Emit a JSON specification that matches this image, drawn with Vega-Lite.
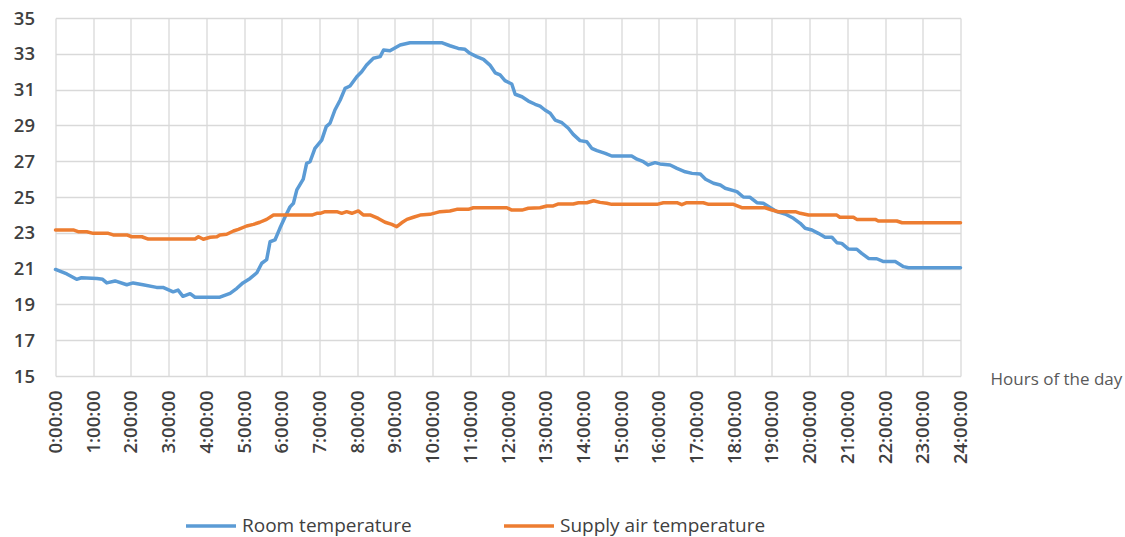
{
 "$schema": "https://vega.github.io/schema/vega-lite/v6.json",
 "width": 905, "height": 358,
 "autosize": "none",
 "padding": {"left": 55.5, "top": 18, "right": 164.5, "bottom": 161},
 "background": "white",
 "config": {"view": {"stroke": null}, "font": "Open Sans"},
 "datasets": {
  "room": [
   {"h":0,"t":20.95},{"h":0.3,"t":20.7},{"h":0.56,"t":20.4},{"h":0.69,"t":20.49},{"h":1.1,"t":20.45},{"h":1.25,"t":20.4},{"h":1.36,"t":20.2},{"h":1.58,"t":20.31},{"h":1.89,"t":20.1},{"h":2.06,"t":20.2},{"h":2.32,"t":20.1},{"h":2.68,"t":19.95},{"h":2.85,"t":19.95},{"h":3.12,"t":19.7},{"h":3.25,"t":19.8},{"h":3.38,"t":19.45},{"h":3.57,"t":19.6},{"h":3.7,"t":19.4},{"h":4.36,"t":19.4},{"h":4.63,"t":19.62},{"h":4.81,"t":19.9},{"h":4.97,"t":20.2},{"h":5.16,"t":20.45},{"h":5.34,"t":20.77},{"h":5.47,"t":21.3},{"h":5.6,"t":21.5},{"h":5.69,"t":22.5},{"h":5.82,"t":22.6},{"h":5.95,"t":23.25},{"h":6.09,"t":23.9},{"h":6.22,"t":24.45},{"h":6.31,"t":24.65},{"h":6.4,"t":25.4},{"h":6.57,"t":26.0},{"h":6.66,"t":26.88},{"h":6.75,"t":26.97},{"h":6.88,"t":27.72},{"h":7.06,"t":28.18},{"h":7.18,"t":28.93},{"h":7.28,"t":29.12},{"h":7.41,"t":29.86},{"h":7.55,"t":30.42},{"h":7.68,"t":31.07},{"h":7.81,"t":31.2},{"h":7.99,"t":31.72},{"h":8.12,"t":32.0},{"h":8.25,"t":32.37},{"h":8.43,"t":32.75},{"h":8.61,"t":32.84},{"h":8.7,"t":33.21},{"h":8.87,"t":33.17},{"h":9.14,"t":33.49},{"h":9.4,"t":33.62},{"h":10.24,"t":33.62},{"h":10.46,"t":33.45},{"h":10.68,"t":33.3},{"h":10.86,"t":33.25},{"h":10.99,"t":33.03},{"h":11.17,"t":32.84},{"h":11.35,"t":32.69},{"h":11.52,"t":32.37},{"h":11.66,"t":31.94},{"h":11.79,"t":31.82},{"h":11.92,"t":31.5},{"h":12.1,"t":31.31},{"h":12.19,"t":30.74},{"h":12.37,"t":30.6},{"h":12.54,"t":30.36},{"h":12.72,"t":30.18},{"h":12.85,"t":30.08},{"h":12.98,"t":29.86},{"h":13.12,"t":29.68},{"h":13.25,"t":29.3},{"h":13.43,"t":29.15},{"h":13.6,"t":28.84},{"h":13.73,"t":28.5},{"h":13.91,"t":28.15},{"h":14.09,"t":28.09},{"h":14.22,"t":27.72},{"h":14.36,"t":27.59},{"h":14.58,"t":27.44},{"h":14.75,"t":27.29},{"h":15.28,"t":27.29},{"h":15.42,"t":27.11},{"h":15.59,"t":26.97},{"h":15.72,"t":26.79},{"h":15.9,"t":26.92},{"h":16.03,"t":26.85},{"h":16.3,"t":26.79},{"h":16.48,"t":26.6},{"h":16.7,"t":26.41},{"h":16.88,"t":26.32},{"h":17.1,"t":26.28},{"h":17.24,"t":25.99},{"h":17.45,"t":25.77},{"h":17.63,"t":25.67},{"h":17.76,"t":25.49},{"h":18.07,"t":25.3},{"h":18.24,"t":25.0},{"h":18.42,"t":24.98},{"h":18.6,"t":24.68},{"h":18.77,"t":24.65},{"h":18.95,"t":24.42},{"h":19.13,"t":24.18},{"h":19.35,"t":24.05},{"h":19.57,"t":23.81},{"h":19.75,"t":23.53},{"h":19.88,"t":23.25},{"h":20.06,"t":23.16},{"h":20.23,"t":22.97},{"h":20.41,"t":22.75},{"h":20.59,"t":22.75},{"h":20.72,"t":22.45},{"h":20.85,"t":22.41},{"h":21.03,"t":22.09},{"h":21.25,"t":22.08},{"h":21.38,"t":21.85},{"h":21.56,"t":21.57},{"h":21.78,"t":21.55},{"h":21.96,"t":21.39},{"h":22.27,"t":21.39},{"h":22.49,"t":21.11},{"h":22.62,"t":21.05},{"h":24,"t":21.05}
  ],
  "supply": [
   {"h":0,"t":23.16},{"h":0.47,"t":23.16},{"h":0.6,"t":23.06},{"h":0.83,"t":23.06},{"h":1.0,"t":22.97},{"h":1.4,"t":22.97},{"h":1.53,"t":22.88},{"h":1.89,"t":22.88},{"h":2.02,"t":22.78},{"h":2.29,"t":22.78},{"h":2.46,"t":22.65},{"h":3.7,"t":22.65},{"h":3.79,"t":22.78},{"h":3.92,"t":22.64},{"h":4.1,"t":22.75},{"h":4.28,"t":22.78},{"h":4.36,"t":22.88},{"h":4.54,"t":22.92},{"h":4.72,"t":23.1},{"h":4.85,"t":23.19},{"h":5.07,"t":23.38},{"h":5.25,"t":23.47},{"h":5.42,"t":23.59},{"h":5.6,"t":23.75},{"h":5.78,"t":23.99},{"h":6.8,"t":23.99},{"h":6.93,"t":24.09},{"h":7.02,"t":24.09},{"h":7.15,"t":24.18},{"h":7.46,"t":24.18},{"h":7.59,"t":24.09},{"h":7.72,"t":24.18},{"h":7.86,"t":24.09},{"h":8.03,"t":24.22},{"h":8.16,"t":24.0},{"h":8.34,"t":24.0},{"h":8.56,"t":23.8},{"h":8.74,"t":23.59},{"h":8.92,"t":23.47},{"h":9.05,"t":23.34},{"h":9.18,"t":23.56},{"h":9.32,"t":23.75},{"h":9.49,"t":23.87},{"h":9.67,"t":23.99},{"h":9.93,"t":24.03},{"h":10.2,"t":24.18},{"h":10.46,"t":24.22},{"h":10.64,"t":24.31},{"h":10.95,"t":24.31},{"h":11.08,"t":24.4},{"h":11.97,"t":24.4},{"h":12.1,"t":24.27},{"h":12.37,"t":24.27},{"h":12.54,"t":24.37},{"h":12.85,"t":24.4},{"h":13.03,"t":24.5},{"h":13.2,"t":24.5},{"h":13.34,"t":24.61},{"h":13.73,"t":24.61},{"h":13.87,"t":24.68},{"h":14.09,"t":24.68},{"h":14.27,"t":24.79},{"h":14.44,"t":24.7},{"h":14.62,"t":24.65},{"h":14.75,"t":24.59},{"h":15.95,"t":24.59},{"h":16.12,"t":24.68},{"h":16.48,"t":24.68},{"h":16.61,"t":24.57},{"h":16.74,"t":24.68},{"h":17.18,"t":24.68},{"h":17.32,"t":24.59},{"h":17.98,"t":24.59},{"h":18.2,"t":24.4},{"h":18.82,"t":24.4},{"h":19.0,"t":24.27},{"h":19.17,"t":24.18},{"h":19.62,"t":24.18},{"h":19.75,"t":24.09},{"h":19.97,"t":23.99},{"h":20.72,"t":23.99},{"h":20.8,"t":23.87},{"h":21.16,"t":23.87},{"h":21.25,"t":23.75},{"h":21.74,"t":23.75},{"h":21.82,"t":23.66},{"h":22.31,"t":23.66},{"h":22.45,"t":23.56},{"h":24,"t":23.56}
  ]
 },
 "encoding": {
  "x": {"field": "h", "type": "quantitative", "scale": {"domain": [0, 24], "nice": false, "zero": false},
   "axis": {"values": [0,1,2,3,4,5,6,7,8,9,10,11,12,13,14,15,16,17,18,19,20,21,22,23,24], "labelExpr": "datum.value + ':00:00'", "labelAngle": -90, "labelFontSize": 18.5, "labelFontWeight": 600, "labelColor": "#404040", "labelPadding": 14, "labelFlush": false, "labelOverlap": false, "ticks": false, "domain": false, "grid": true, "gridColor": "#d9d9d9", "gridWidth": 1.3, "title": "Hours of the day", "titleAngle": 0, "titleX": 934.5, "titleY": 3, "titleAlign": "left", "titleBaseline": "middle", "titleFontSize": 17, "titleFontWeight": "normal", "titleColor": "#595959"}},
  "y": {"field": "t", "type": "quantitative", "scale": {"domain": [15, 35], "nice": false, "zero": false},
   "axis": {"values": [15,17,19,21,23,25,27,29,31,33,35], "labelFontSize": 18.5, "labelFontWeight": 600, "labelColor": "#404040", "labelPadding": 21, "labelFlush": false, "labelOverlap": false, "ticks": false, "domain": false, "grid": true, "gridColor": "#d9d9d9", "gridWidth": 1.3, "title": null}},
  "color": {"field": "series", "type": "nominal", "scale": {"domain": ["Room temperature", "Supply air temperature"], "range": ["#5B9BD5", "#ED7D31"]},
   "legend": {"orient": "none", "legendX": 128.5, "legendY": 481, "direction": "horizontal", "title": null, "symbolType": "stroke", "symbolSize": 2500, "symbolStrokeWidth": 3.5, "labelFontSize": 19, "labelColor": "#404040", "labelLimit": 400, "columnPadding": 85, "labelOffset": 4}}
 },
 "layer": [
  {
   "data": {"name": "room"},
   "transform": [{"calculate": "'Room temperature'", "as": "series"}],
   "mark": {"type": "line", "strokeWidth": 3.5, "strokeJoin": "round", "strokeCap": "round"}
  },
  {
   "data": {"name": "supply"},
   "transform": [{"calculate": "'Supply air temperature'", "as": "series"}],
   "mark": {"type": "line", "strokeWidth": 3.5, "strokeJoin": "round", "strokeCap": "round"}
  }
 ]
}
